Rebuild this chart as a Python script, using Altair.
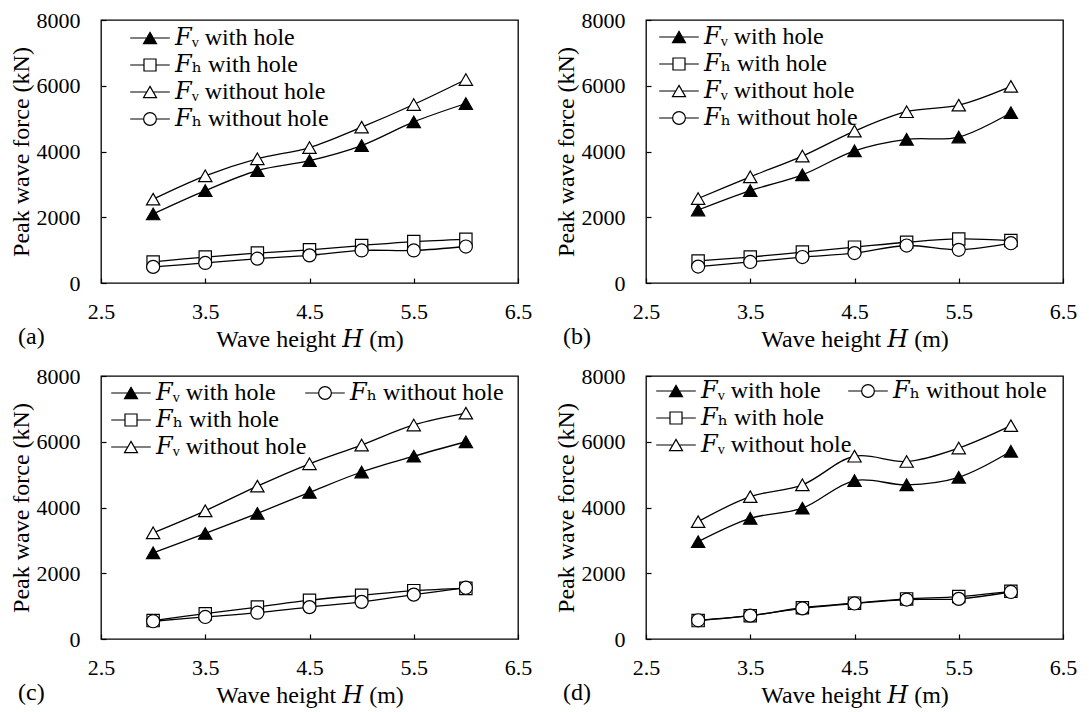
import altair as alt
import pandas as pd

# ---------------- data ----------------
H = [3.0, 3.5, 4.0, 4.5, 5.0, 5.5, 6.0]
LABELS = ["𝐹ᵥ with hole", "𝐹ₕ with hole", "𝐹ᵥ without hole", "𝐹ₕ without hole"]

a_fv_hole = [2100, 2810, 3420, 3720, 4180, 4900, 5460]
a_fh_hole = [640, 790, 910, 1010, 1140, 1260, 1330]
a_fv_nohole = [2550, 3260, 3780, 4120, 4740, 5430, 6190]
a_fh_nohole = [490, 610, 740, 840, 990, 990, 1110]

b_fv_hole = [2220, 2810, 3290, 4020, 4370, 4440, 5180]
b_fh_hole = [670, 790, 940, 1090, 1240, 1340, 1290]
b_fv_nohole = [2570, 3230, 3860, 4620, 5210, 5410, 5980]
b_fh_nohole = [500, 640, 790, 910, 1140, 1010, 1210]

c_fv_hole = [2620, 3210, 3820, 4460, 5080, 5560, 6000]
c_fh_hole = [560, 770, 970, 1180, 1330, 1470, 1540]
c_fv_nohole = [3230, 3900, 4650, 5330, 5900, 6510, 6870]
c_fh_nohole = [540, 670, 800, 970, 1130, 1350, 1560]

d_fv_hole = [2960, 3670, 3980, 4820, 4690, 4920, 5710]
d_fh_hole = [560, 710, 950, 1090, 1220, 1290, 1450]
d_fv_nohole = [3570, 4330, 4690, 5560, 5400, 5810, 6490]
d_fh_nohole = [570, 710, 930, 1080, 1200, 1220, 1430]

X_TICKS = [2.5, 3.5, 4.5, 5.5, 6.5]
Y_TICKS = [0, 2000, 4000, 6000, 8000]

# ---------------- styles ----------------
FONT = "Liberation Serif, DejaVu Serif, serif"
TRI = "M0,-0.8L0.92,0.8L-0.92,0.8Z"
SQ = "M-0.85,-0.85H0.85V0.85H-0.85Z"
CIR = "M0.9,0A0.9,0.9 0 1,1 -0.9,0A0.9,0.9 0 1,1 0.9,0Z"
MARKERS = [TRI, SQ, TRI, CIR]
LEG_SYMS = [TRI + "M-2.8,0H-0.46M0.46,0H2.8",
            SQ + "M-2.8,0H-0.85M0.85,0H2.8",
            TRI + "M-2.8,0H-0.46M0.46,0H2.8",
            CIR + "M-2.8,0H-0.9M0.9,0H2.8"]
FILLS = ["black", "white", "white", "white"]

W, HT = 417, 263


def legend(lx, ly):
    return alt.Legend(orient="none", legendX=lx, legendY=ly, title=None,
                      labelFont=FONT, labelFontSize=24, labelColor="black",
                      labelLimit=400, symbolSize=200, labelOffset=13,
                      rowPadding=3, padding=0, symbolStrokeColor="black",
                      symbolStrokeWidth=1.2)


def panel(vals, tag, legends):
    rows = []
    for lab, mk, fl, v in zip(LABELS, MARKERS, FILLS, vals):
        for h, f in zip(H, v):
            rows.append(dict(H=h, F=f, series=lab, path=mk, fill=fl))
    df = pd.DataFrame(rows)
    base = alt.Chart(df)
    x = alt.X("H:Q", scale=alt.Scale(domain=[2.5, 6.5], nice=False, zero=False),
              axis=alt.Axis(values=X_TICKS, format=".1f", title="Wave height 𝐻 (m)",
                            labelPadding=18, titlePadding=5))
    y = alt.Y("F:Q", scale=alt.Scale(domain=[0, 8000], nice=False),
              axis=alt.Axis(values=Y_TICKS, format="d", title="Peak wave force (kN)",
                            labelPadding=21, titlePadding=3))
    lines = base.mark_line(color="black", strokeWidth=1.3,
                           interpolate="catmull-rom").encode(x=x, y=y, detail="series:N")
    points = base.mark_point(filled=True, stroke="black", strokeWidth=1.2,
                             size=210, opacity=1).encode(
        x=x, y=y,
        shape=alt.Shape("path:N", scale=None),
        fill=alt.Fill("fill:N", scale=None))
    layers = [lines, points]
    for idx, lx, ly in legends:
        names = [LABELS[i] for i in idx]
        syms = [LEG_SYMS[i] for i in idx]
        fls = [FILLS[i] for i in idx]
        lg = legend(lx, ly)
        layers.append(
            base.mark_point(filled=False, strokeWidth=1.2, opacity=1)
            .encode(shape=alt.Shape("series:N", scale=alt.Scale(domain=names, range=syms), legend=lg),
                    fill=alt.Fill("series:N", scale=alt.Scale(domain=names, range=fls), legend=lg),
                    stroke=alt.Stroke("series:N", scale=alt.Scale(domain=names, range=["black"] * len(names)), legend=lg))
            .transform_filter("false"))
    ch = alt.layer(*layers).resolve_scale(shape="independent", fill="independent", stroke="independent") \
        .resolve_legend(shape="independent", fill="independent", stroke="independent") \
        .properties(width=W, height=HT,
                    title=alt.TitleParams(text=tag, orient="bottom", anchor="start",
                                          font=FONT, fontSize=24, fontWeight="normal",
                                          color="black", offset=-26, dx=9))
    return ch


pa = panel([a_fv_hole, a_fh_hole, a_fv_nohole, a_fh_nohole], "(a)", [([0, 1, 2, 3], 37, 6)])
pb = panel([b_fv_hole, b_fh_hole, b_fv_nohole, b_fh_nohole], "(b)", [([0, 1, 2, 3], 21, 5)])
pc = panel([c_fv_hole, c_fh_hole, c_fv_nohole, c_fh_nohole], "(c)", [([0, 1, 2], 18, 5), ([3], 212, 5)])
pd_ = panel([d_fv_hole, d_fh_hole, d_fv_nohole, d_fh_nohole], "(d)", [([0, 1, 2], 18, 3), ([3], 210, 3)])

RES = dict(shape="independent", fill="independent", stroke="independent")
top = alt.hconcat(pa, pb, spacing=20).resolve_scale(**RES).resolve_legend(**RES)
bottom = alt.hconcat(pc, pd_, spacing=20).resolve_scale(**RES).resolve_legend(**RES)
chart = alt.vconcat(top, bottom, spacing=12).resolve_scale(**RES).resolve_legend(**RES) \
    .properties(padding={"left": 0, "top": 0, "right": 0, "bottom": 0}, background="white") \
    .configure_axis(labelFont=FONT, labelFontSize=22, labelColor="black",
                    titleFont=FONT, titleFontSize=24, titleFontWeight="normal",
                    titleColor="black", domain=False, grid=False, ticks=True,
                    tickColor="black", tickSize=5, tickWidth=1.2, offset=-5,
                    labelFlush=False, labelOverlap=False) \
    .configure_view(stroke="black", strokeWidth=1.3)

chart.save("out.html", embed_options={"renderer": "svg", "actions": False})
